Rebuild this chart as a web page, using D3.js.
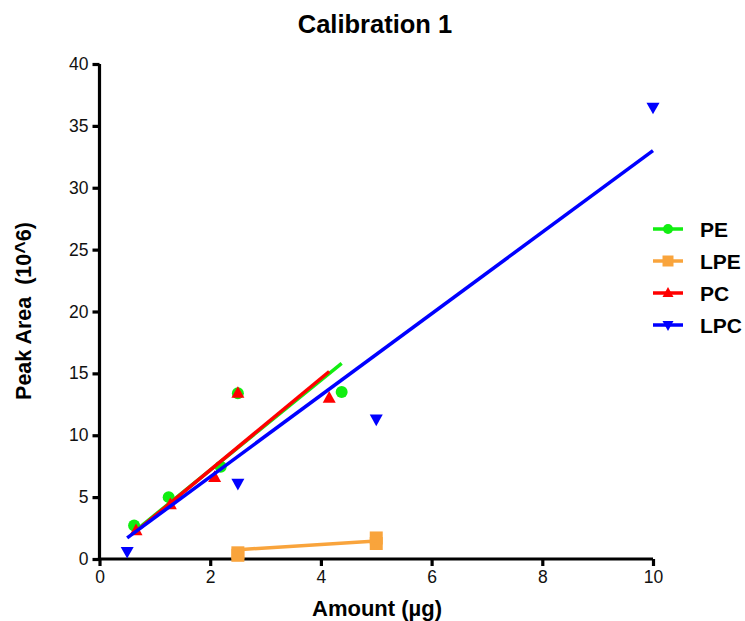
<!DOCTYPE html>
<html><head><meta charset="utf-8">
<script src="https://cdn.jsdelivr.net/npm/d3@7"></script>
<style>body{margin:0;background:#fff}svg{display:block}text{white-space:pre}</style>
</head><body>
<script>
// ---- data ----
const seriesNames = ["PE", "LPE", "PC", "LPC"];
const seriesColors = ["#11ee11", "#f9a43c", "#ff0000", "#0000ff"];
const seriesSymbols = ["circle", "square", "triangleUp", "triangleDown"];

const peX = [0.625, 1.25, 2.19, 2.5, 4.375];
const peY = [2.7, 5.0, 7.45, 13.4, 13.5];
const lpeX = [2.5, 2.5, 5, 5];
const lpeY = [0.3, 0.5, 1.25, 1.7];
const pcX = [0.66, 1.28, 2.08, 2.5, 4.15];
const pcY = [2.3, 4.4, 6.6, 13.4, 13.0];
const lpcX = [0.5, 2.5, 5, 10];
const lpcY = [0.6, 6.1, 11.3, 36.5];

// linear fits (start/end points)
const peFitX = [0.625, 4.375], peFitY = [2.2, 15.8];
const lpeFitX = [2.5, 5], lpeFitY = [0.75, 1.45];
const pcFitX = [0.625, 4.15], pcFitY = [2.1, 15.15];
const lpcFitX = [0.5, 10], lpcFitY = [1.7, 33.0];

const xTicks = [0, 2, 4, 6, 8, 10];
const yTicks = [0, 5, 10, 15, 20, 25, 30, 35, 40];

const titleText = "Calibration 1";
const xLabel = "Amount (µg)";
const yLabel = "Peak Area  (10^6)";

// ---- chart ----
const W = 745, H = 621;
const svg = d3.select("body").append("svg").attr("width", W).attr("height", H);
svg.append("rect").attr("width", W).attr("height", H).attr("fill", "#fff");

const x = d3.scaleLinear().domain([0, 10]).range([99.5, 653]);
const y = d3.scaleLinear().domain([0, 40]).range([559, 64]);
const font = "'Liberation Sans', Arial, sans-serif";

// title
svg.append("text").attr("x", 375).attr("y", 33).attr("text-anchor", "middle")
  .attr("font-family", font).attr("font-weight", "bold").attr("font-size", 25.5)
  .text(titleText);

// axes
const xAxis = svg.append("g").attr("transform", `translate(0,${y(0)})`)
  .call(d3.axisBottom(x).tickValues(xTicks).tickSize(7).tickPadding(5).tickFormat(d3.format("d")));
const yAxis = svg.append("g").attr("transform", `translate(${x(0)},0)`)
  .call(d3.axisLeft(y).tickValues(yTicks).tickSize(7).tickPadding(4).tickFormat(d3.format("d")));
[xAxis, yAxis].forEach(a => {
  a.select(".domain").attr("stroke", "#000").attr("stroke-width", 3.2);
  a.selectAll(".tick line").attr("stroke", "#000").attr("stroke-width", 3.2);
  a.selectAll(".tick text").attr("font-family", font).attr("font-size", 17.5).attr("fill", "#111");
});
// extend domain lines to meet at corner
xAxis.select(".domain").attr("d", `M${x(0)-1.6},0H${x(10)}`);
yAxis.select(".domain").attr("d", `M0,${y(0)+1.6}V${y(40)}`);

// axis labels
svg.append("text").attr("x", 377).attr("y", 616).attr("text-anchor", "middle")
  .attr("font-family", font).attr("font-weight", "bold").attr("font-size", 22)
  .text(xLabel);
svg.append("text").attr("transform", `translate(31,311) rotate(-90)`).attr("text-anchor", "middle")
  .attr("font-family", font).attr("font-weight", "bold").attr("font-size", 21.5)
  .text(yLabel);

function symPath(kind, s) {
  if (kind === "circle") return d3.symbol(d3.symbolCircle, s * s * Math.PI / 4)();
  if (kind === "square") return `M${-s/2},${-s/2}h${s}v${s}h${-s}Z`;
  if (kind === "triangleUp") { const h = s * 0.9; return `M0,${-h*0.6}L${s/2},${h*0.4}L${-s/2},${h*0.4}Z`; }
  const h = s * 0.9; return `M0,${h*0.6}L${s/2},${-h*0.4}L${-s/2},${-h*0.4}Z`;
}
const symSize = [12, 13, 13, 13];

const series = [
  {xs: peX, ys: peY, fx: peFitX, fy: peFitY},
  {xs: lpeX, ys: lpeY, fx: lpeFitX, fy: lpeFitY},
  {xs: pcX, ys: pcY, fx: pcFitX, fy: pcFitY},
  {xs: lpcX, ys: lpcY, fx: lpcFitX, fy: lpcFitY}
];
const line = d3.line().x(d => x(d[0])).y(d => y(d[1]));
series.forEach((s, i) => {
  const g = svg.append("g");
  g.selectAll("path.pt").data(d3.zip(s.xs, s.ys)).join("path").attr("class", "pt")
    .attr("transform", d => `translate(${x(d[0])},${y(d[1])})`)
    .attr("d", symPath(seriesSymbols[i], symSize[i])).attr("fill", seriesColors[i]);
  g.append("path").attr("d", line(d3.zip(s.fx, s.fy))).attr("fill", "none")
    .attr("stroke", seriesColors[i]).attr("stroke-width", 3.5);
});

// legend
const lg = svg.append("g");
seriesNames.forEach((n, i) => {
  const yy = 229 + i * 32;
  lg.append("line").attr("x1", 653).attr("x2", 683).attr("y1", yy).attr("y2", yy)
    .attr("stroke", seriesColors[i]).attr("stroke-width", 3.5);
  lg.append("path").attr("transform", `translate(668,${yy})`)
    .attr("d", symPath(seriesSymbols[i], i === 0 ? 10 : 11)).attr("fill", seriesColors[i]);
  lg.append("text").attr("x", 700).attr("y", yy + 8).attr("font-family", font)
    .attr("font-weight", "bold").attr("font-size", 21).text(n);
});
</script>
</body></html>
